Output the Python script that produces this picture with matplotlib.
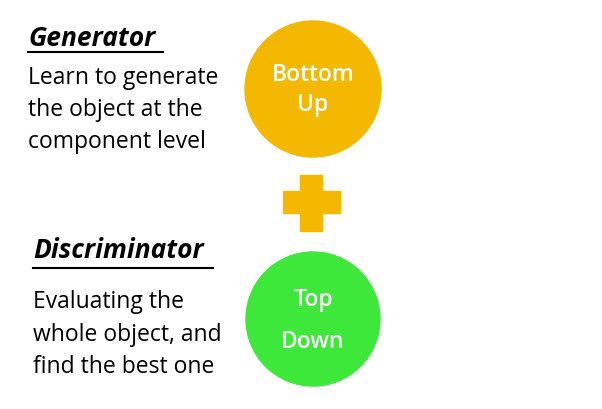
import matplotlib
matplotlib.use('Agg')
import matplotlib.pyplot as plt
from matplotlib.patches import Circle, Rectangle

titles = ["Generator", "Discriminator"]
descriptions = [["Learn to generate", "the object at the", "component level"],
                ["Evaluating the", "whole object, and", "find the best one"]]
circle_labels = [["Bottom", "Up"], ["Top", "Down"]]
circle_colors = ["#F5B800", "#3DE83A"]

fig = plt.figure(figsize=(6.02, 4.10), dpi=100)
ax = fig.add_axes([0, 0, 1, 1])
ax.set_xlim(0, 602)
ax.set_ylim(410, 0)
ax.axis('off')
plt.rcParams['font.family'] = ['Open Sans', 'DejaVu Sans']

# left column
title_pos = [(28, 38, 163, 53), (33, 250, 213, 269)]
desc_y = [[78, 110, 142], [302, 335, 367]]
for i in range(2):
    x, y, x2, uy = title_pos[i]
    ax.text(x, y, titles[i], fontsize=19, fontweight='bold', fontstyle='italic',
            va='center', ha='left')
    ax.plot([x, x2], [uy, uy], color='black', lw=1.5)
    for line, ly in zip(descriptions[i], desc_y[i]):
        ax.text(x, ly, line, fontsize=16.5, va='center', ha='left')

# circles
centers = [(313, 90, 68), (313, 320, 67)]
text_y = [[75, 105], [300, 342]]
for i in range(2):
    cx, cy, r = centers[i]
    ax.add_patch(Circle((cx, cy), r, color=circle_colors[i]))
    for lab, ty in zip(circle_labels[i], text_y[i]):
        ax.text(cx, ty, lab, fontsize=16.5, color='white', ha='center', va='center',
                fontweight='semibold')

# plus sign
ax.add_patch(Rectangle((283, 192), 57, 22, color=circle_colors[0]))
ax.add_patch(Rectangle((300, 176), 22, 56, color=circle_colors[0]))

fig.savefig('out.png', dpi=100)
